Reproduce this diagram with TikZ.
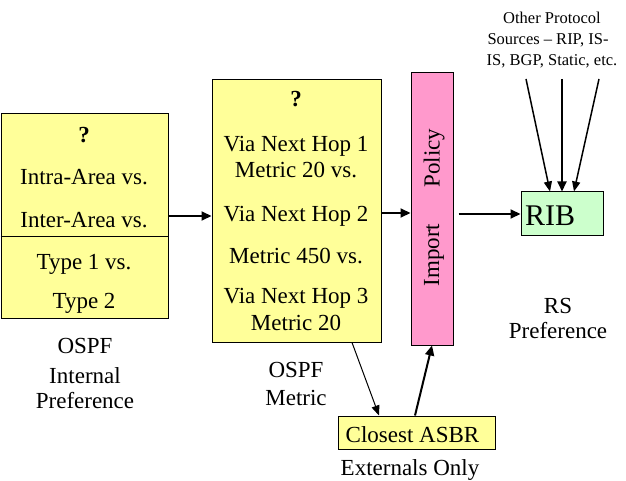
\documentclass[tikz,border=0pt]{standalone}
\usepackage{fontspec}
\setmainfont{Liberation Serif}
\usetikzlibrary{arrows.meta}
\definecolor{boxyellow}{RGB}{255,255,153}
\definecolor{policypink}{RGB}{255,153,204}
\definecolor{ribgreen}{RGB}{204,255,204}
\begin{document}
\begin{tikzpicture}[x=1pt,y=-1pt,
  box/.style={draw=black, line width=1pt, inner sep=0pt},
  txt/.style={inner sep=0pt, anchor=base, font=\fontsize{23}{26}\selectfont},
  small/.style={inner sep=0pt, anchor=base, font=\fontsize{16.5}{20}\selectfont},
  flow/.style={line width=2pt, -{Triangle[length=10pt,width=9pt]}},
  feed/.style={line width=1.5pt, -{Triangle[length=10pt,width=8pt]}},
  thinflow/.style={line width=1pt, -{Triangle[length=10pt,width=8pt]}}]
\useasboundingbox (0,0) rectangle (626,481);

% boxes
\node[box, fill=boxyellow, minimum width=167pt, minimum height=204pt] (intra) at (84.5,216) {};
\node[box, fill=boxyellow, minimum width=169pt, minimum height=262pt] (mid) at (296.5,211) {};
\node[box, fill=policypink, minimum width=42pt, minimum height=272pt] (pol) at (432,209) {};
\node[box, fill=ribgreen, minimum width=82pt, minimum height=43pt] (rib) at (562,213.5) {};
\node[box, fill=boxyellow, minimum width=157pt, minimum height=33pt] (asbr) at (416.5,432.5) {};
\draw[line width=1pt] (intra.west |- 0,236) -- (intra.east |- 0,236);

% OSPF internal preference box
\node[txt] (q1) at (84,143) {\textbf{?}};
\node[txt] (l1) at (84,185) {Intra-Area vs.};
\node[txt] (l2) at (84,227) {Inter-Area vs.};
\node[txt] (l3) at (84,269) {Type 1 vs.};
\node[txt] (l4) at (84,308) {Type 2};

% metric box
\node[txt] (q2) at (296,107) {\textbf{?}};
\node[txt] (m1) at (296,152) {Via Next Hop 1};
\node[txt] (m2) at (296,178) {Metric 20 vs.};
\node[txt] (m3) at (296,222) {Via Next Hop 2};
\node[txt] (m4) at (296,263) {Metric 450 vs.};
\node[txt] (m5) at (296,303) {Via Next Hop 3};
\node[txt] (m6) at (296,330) {Metric 20};

% import policy
\node[inner sep=0pt, rotate=90, font=\fontsize{23}{26}\selectfont] (pp) at (434,158) {Policy};
\node[inner sep=0pt, rotate=90, font=\fontsize{23}{26}\selectfont] (pi) at (434,255) {Import};

% RIB and ASBR
\node[inner sep=0pt, anchor=base west, font=\fontsize{30}{32}\selectfont] (ribt) at (525,225) {RIB};
\node[txt] (at) at (412.5,442) {Closest ASBR};

% captions
\node[txt] (c1) at (85,353) {OSPF};
\node[txt] (c2) at (85,383) {Internal};
\node[txt] (c3) at (85,408) {Preference};
\node[txt] (c4) at (296,377) {OSPF};
\node[txt] (c5) at (296,405) {Metric};
\node[txt] (c6) at (558,313) {RS};
\node[txt] (c7) at (558,338) {Preference};
\node[txt] (c8) at (410,475) {Externals Only};
\node[small] (o1) at (552,24) {Other Protocol};
\node[small] (o2) at (548,45) {Sources -- RIP, IS-};
\node[small] (o3) at (552,66) {IS, BGP, Static, etc.};

% connectors
\coordinate (s1) at (526,79);
\coordinate (s2) at (562,79);
\coordinate (s3) at (599,79);
\draw[flow] (intra.east) -- (intra.east -| mid.west);
\draw[flow] (mid.east |- 0,213) -- (pol.west |- 0,213);
\draw[flow] ([xshift=5pt]pol.east |- 0,214) -- (rib.west |- 0,214);
\draw[feed] (s1) -- (rib.north -| 550,0);
\draw[flow] (s2) -- (rib.north);
\draw[feed] (s3) -- (rib.north -| 574,0);
\draw[thinflow] (mid.south -| 352,0) -- (asbr.north -| 379,0);
\draw[flow] (asbr.north -| 415,0) -- (pol.south -| 432,0);
\end{tikzpicture}
\end{document}
